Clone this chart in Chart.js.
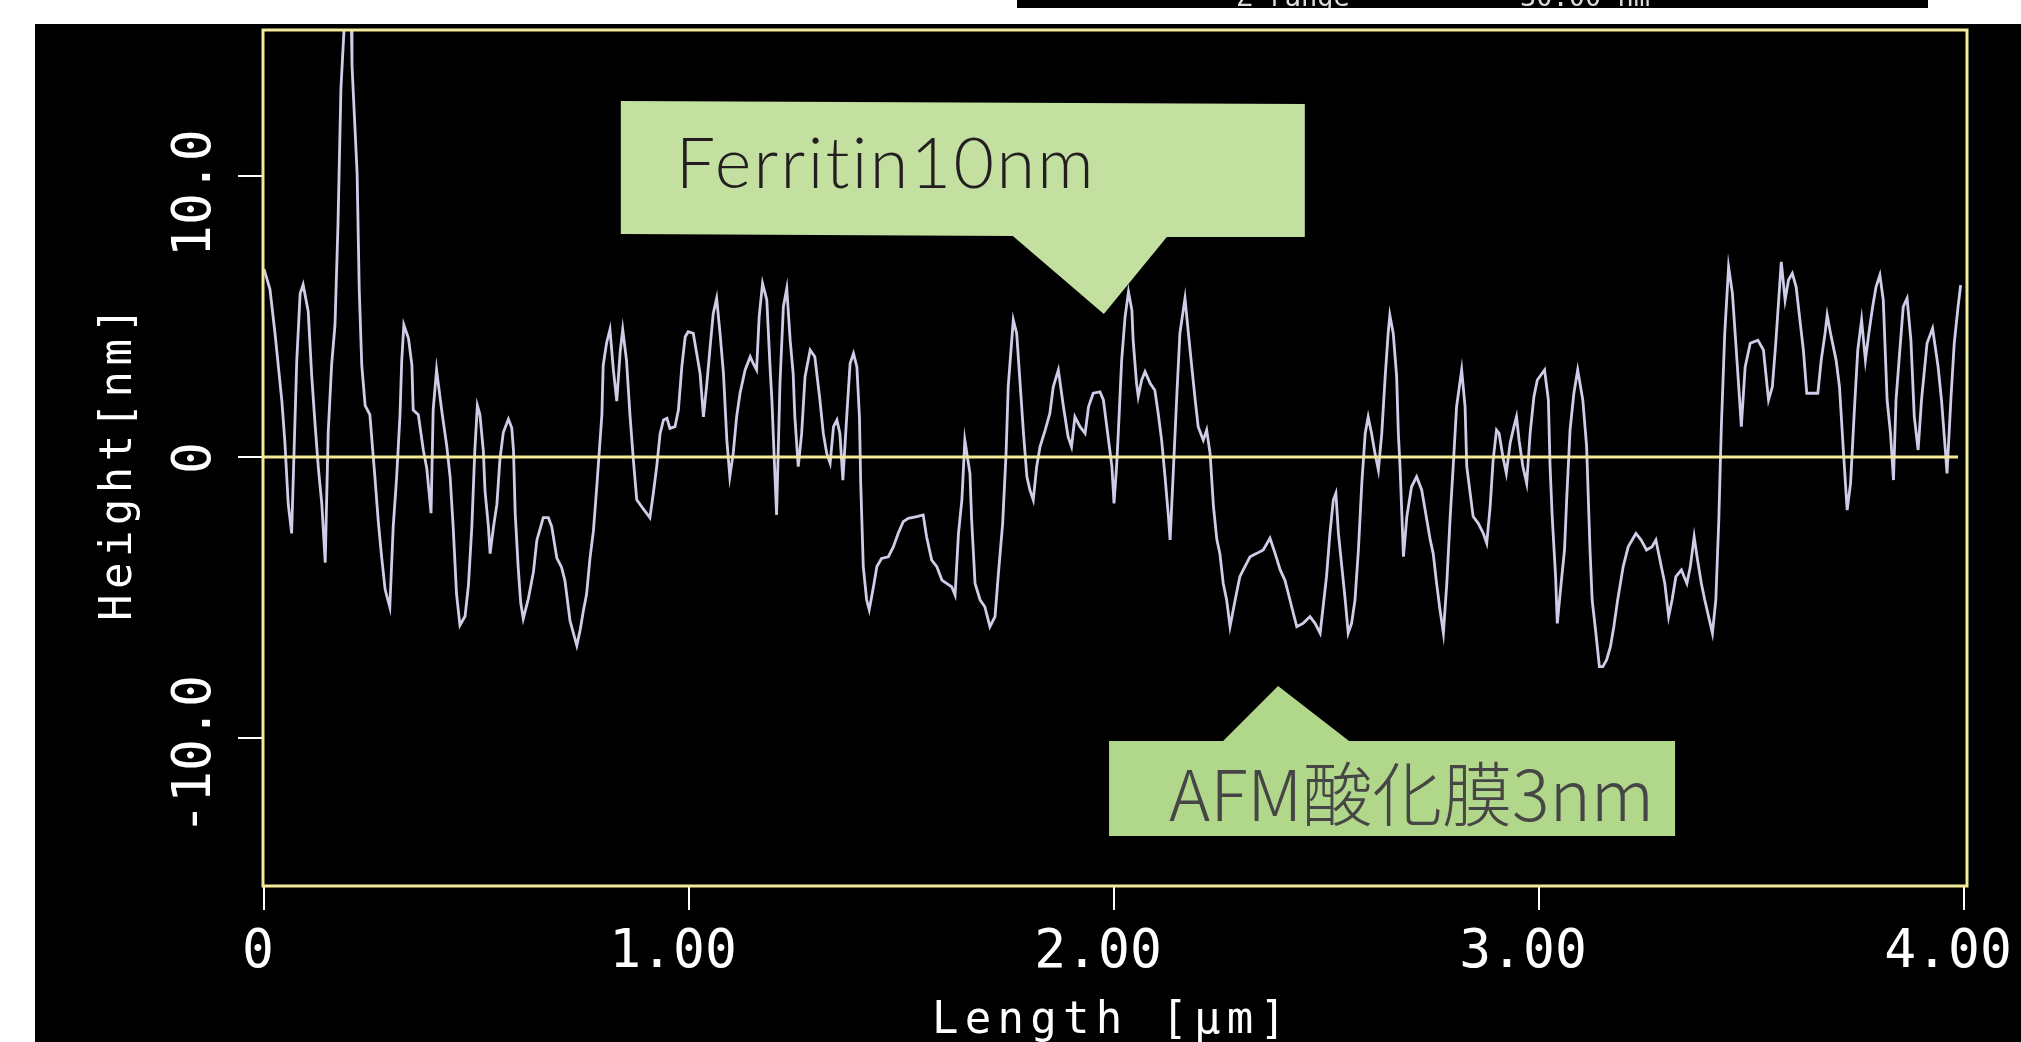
<!DOCTYPE html>
<html>
<head>
<meta charset="utf-8">
<title>Height profile</title>
<script src="https://cdn.jsdelivr.net/npm/chart.js@4.4.1/dist/chart.umd.min.js"></script>
<style>
  html, body { margin: 0; padding: 0; background: #ffffff; overflow: hidden; }
  canvas { display: block; }
</style>
</head>
<body>
<canvas id="profileChart" width="2021" height="1042"></canvas>
<script>
// profile (x in um, height in nm)
const lengthUm = [
  0.000, 0.014, 0.026, 0.042, 0.049, 0.057, 0.065, 0.077, 0.085, 0.092,
  0.104, 0.112, 0.120, 0.128, 0.136, 0.144, 0.151, 0.159, 0.167, 0.174,
  0.181, 0.191, 0.205, 0.207, 0.219, 0.224, 0.230, 0.238, 0.249, 0.261,
  0.269, 0.277, 0.285, 0.296, 0.304, 0.312, 0.320, 0.324, 0.329, 0.340,
  0.348, 0.351, 0.363, 0.375, 0.383, 0.393, 0.398, 0.406, 0.418, 0.430,
  0.438, 0.445, 0.453, 0.461, 0.473, 0.481, 0.489, 0.496, 0.502, 0.508,
  0.516, 0.520, 0.528, 0.532, 0.540, 0.548, 0.555, 0.563, 0.575, 0.583,
  0.587, 0.591, 0.598, 0.604, 0.610, 0.622, 0.634, 0.642, 0.657, 0.669,
  0.677, 0.689, 0.700, 0.708, 0.720, 0.736, 0.744, 0.751, 0.759, 0.767,
  0.775, 0.783, 0.789, 0.795, 0.798, 0.806, 0.814, 0.822, 0.830, 0.838,
  0.844, 0.853, 0.861, 0.869, 0.877, 0.892, 0.908, 0.916, 0.924, 0.932,
  0.940, 0.948, 0.955, 0.967, 0.975, 0.983, 0.991, 0.998, 1.010, 1.018,
  1.026, 1.034, 1.042, 1.049, 1.057, 1.065, 1.073, 1.081, 1.089, 1.096,
  1.104, 1.112, 1.120, 1.132, 1.144, 1.151, 1.159, 1.165, 1.173, 1.183,
  1.191, 1.195, 1.200, 1.206, 1.214, 1.222, 1.230, 1.238, 1.245, 1.249,
  1.257, 1.265, 1.273, 1.285, 1.296, 1.308, 1.316, 1.324, 1.332, 1.340,
  1.348, 1.355, 1.362, 1.371, 1.379, 1.387, 1.395, 1.401, 1.404, 1.410,
  1.418, 1.424, 1.434, 1.442, 1.453, 1.469, 1.481, 1.492, 1.504, 1.516,
  1.536, 1.551, 1.559, 1.571, 1.583, 1.595, 1.606, 1.618, 1.626, 1.634,
  1.642, 1.649, 1.661, 1.665, 1.673, 1.685, 1.696, 1.708, 1.720, 1.728,
  1.738, 1.746, 1.751, 1.763, 1.771, 1.779, 1.787, 1.795, 1.802, 1.810,
  1.818, 1.826, 1.838, 1.849, 1.857, 1.869, 1.881, 1.892, 1.900, 1.908,
  1.920, 1.932, 1.940, 1.951, 1.967, 1.975, 1.983, 1.989, 1.995, 2.000,
  2.006, 2.010, 2.018, 2.026, 2.034, 2.042, 2.045, 2.053, 2.057, 2.065,
  2.073, 2.085, 2.096, 2.104, 2.112, 2.120, 2.128, 2.132, 2.140, 2.148,
  2.155, 2.167, 2.175, 2.183, 2.191, 2.198, 2.210, 2.218, 2.226, 2.234,
  2.242, 2.249, 2.257, 2.265, 2.273, 2.285, 2.296, 2.308, 2.320, 2.336,
  2.351, 2.367, 2.379, 2.391, 2.402, 2.410, 2.418, 2.430, 2.445, 2.461,
  2.473, 2.485, 2.492, 2.500, 2.508, 2.516, 2.522, 2.528, 2.536, 2.544,
  2.551, 2.559, 2.567, 2.575, 2.583, 2.591, 2.598, 2.606, 2.614, 2.622,
  2.630, 2.638, 2.645, 2.649, 2.657, 2.665, 2.669, 2.673, 2.681, 2.689,
  2.700, 2.712, 2.724, 2.736, 2.744, 2.751, 2.759, 2.767, 2.775, 2.783,
  2.791, 2.798, 2.806, 2.818, 2.826, 2.830, 2.838, 2.845, 2.857, 2.869,
  2.877, 2.885, 2.892, 2.900, 2.906, 2.915, 2.923, 2.932, 2.941, 2.947,
  2.953, 2.962, 2.971, 2.979, 2.988, 2.996, 3.013, 3.022, 3.026, 3.031,
  3.039, 3.043, 3.052, 3.060, 3.065, 3.073, 3.082, 3.091, 3.103, 3.112,
  3.120, 3.125, 3.133, 3.142, 3.150, 3.159, 3.168, 3.176, 3.185, 3.198,
  3.210, 3.228, 3.240, 3.253, 3.266, 3.275, 3.283, 3.296, 3.305, 3.313,
  3.322, 3.335, 3.348, 3.356, 3.365, 3.373, 3.382, 3.390, 3.399, 3.408,
  3.416, 3.423, 3.429, 3.437, 3.446, 3.455, 3.463, 3.472, 3.476, 3.485,
  3.497, 3.515, 3.528, 3.540, 3.549, 3.557, 3.566, 3.570, 3.579, 3.587,
  3.596, 3.605, 3.613, 3.622, 3.630, 3.643, 3.656, 3.664, 3.673, 3.678,
  3.686, 3.699, 3.707, 3.716, 3.725, 3.733, 3.742, 3.750, 3.759, 3.768,
  3.776, 3.785, 3.793, 3.802, 3.810, 3.819, 3.827, 3.834, 3.840, 3.849,
  3.857, 3.866, 3.875, 3.883, 3.892, 3.900, 3.913, 3.926, 3.939, 3.947,
  3.956, 3.960, 3.969, 3.977, 3.986, 3.992
];
const heightNm = [
  6.69, 5.97, 4.38, 1.99, 0.55, -1.68, -2.72, 3.42, 5.82, 6.14,
  5.18, 2.94, 1.19, -0.41, -1.68, -3.76, 0.87, 3.26, 4.70, 8.26,
  13.13, 16.0, 16.0, 13.95, 10.11, 5.98, 3.26, 1.83, 1.51, -0.73,
  -2.32, -3.60, -4.72, -5.35, -2.48, -0.73, 1.51, 3.42, 4.70, 4.22,
  3.26, 1.67, 1.51, 0.23, -0.41, -2.00, 1.67, 3.10, 1.67, 0.39,
  -0.73, -2.48, -4.88, -5.99, -5.67, -4.56, -2.48, 0.23, 1.83, 1.51,
  0.23, -1.21, -2.48, -3.44, -2.48, -1.68, -0.09, 0.87, 1.35, 1.03,
  0.23, -2.00, -3.92, -5.19, -5.75, -5.04, -4.08, -2.96, -2.16, -2.16,
  -2.48, -3.60, -3.92, -4.40, -5.83, -6.71, -6.15, -5.51, -4.88, -3.60,
  -2.64, -1.05, 0.23, 1.51, 3.26, 4.06, 4.54, 3.10, 1.99, 3.74,
  4.54, 3.42, 1.51, -0.09, -1.52, -1.84, -2.16, -1.29, -0.34, 0.84,
  1.32, 1.38, 1.02, 1.08, 1.67, 3.21, 4.28, 4.46, 4.40, 3.69,
  2.98, 1.43, 2.62, 3.81, 5.11, 5.65, 4.40, 2.98, 0.60, -0.70,
  0.13, 1.43, 2.27, 3.10, 3.57, 3.33, 3.10, 4.99, 6.18, 5.59,
  3.10, 2.03, 0.13, -2.06, 2.62, 5.35, 6.00, 4.16, 2.98, 1.43,
  -0.34, 0.84, 2.86, 3.81, 3.57, 2.03, 0.84, 0.13, -0.22, 1.08,
  1.32, 0.84, -0.82, 1.43, 3.33, 3.69, 3.21, 1.43, -0.94, -3.90,
  -5.09, -5.44, -4.62, -3.90, -3.61, -3.55, -3.19, -2.72, -2.30, -2.18,
  -2.12, -2.06, -2.84, -3.67, -3.90, -4.38, -4.50, -4.62, -4.91, -2.72,
  -1.53, 0.60, -0.58, -2.24, -4.50, -5.09, -5.33, -6.04, -5.68, -4.14,
  -2.36, 0.13, 2.50, 4.88, 4.40, 2.62, 0.84, -0.70, -1.17, -1.53,
  -0.34, 0.37, 0.96, 1.55, 2.50, 3.10, 1.79, 0.72, 0.37, 1.43,
  1.08, 0.84, 1.79, 2.27, 2.32, 2.03, 1.08, 0.37, -0.34, -1.65,
  -0.34, 0.84, 3.45, 4.99, 5.88, 5.23, 4.16, 2.62, 2.15, 2.74,
  3.04, 2.62, 2.38, 1.55, 0.60, -0.70, -2.12, -2.95, -0.34, 2.27,
  4.40, 5.65, 4.40, 3.21, 2.03, 1.08, 0.60, 0.96, 0.13, -1.77,
  -2.95, -3.43, -4.50, -5.09, -6.04, -5.09, -4.26, -3.90, -3.55, -3.43,
  -3.31, -2.89, -3.43, -4.02, -4.38, -4.85, -5.33, -6.04, -5.92, -5.68,
  -5.92, -6.27, -5.33, -4.26, -2.72, -1.53, -1.29, -2.72, -3.90, -5.09,
  -6.27, -5.92, -5.09, -3.31, -0.94, 0.84, 1.43, 0.84, 0.13, -0.46,
  0.84, 2.86, 4.40, 5.05, 4.40, 2.86, 0.84, -0.34, -3.55, -2.12,
  -1.06, -0.70, -1.17, -2.24, -2.95, -3.43, -4.50, -5.44, -6.27, -4.50,
  -2.12, -0.34, 1.79, 3.10, 1.79, -0.34, -1.29, -2.12, -2.36, -2.72,
  -3.07, -1.77, -0.11, 0.96, 0.84, 0.01, -0.58, 0.49, 1.08, 1.43,
  0.60, -0.34, -0.94, 0.84, 2.15, 2.74, 3.10, 2.03, -0.34, -2.12,
  -4.26, -5.92, -4.50, -3.31, -1.53, 0.96, 2.27, 3.10, 2.03, 0.37,
  -3.31, -5.09, -6.16, -7.46, -7.46, -7.22, -6.75, -6.04, -5.09, -3.90,
  -3.19, -2.72, -2.95, -3.31, -3.19, -2.95, -3.55, -4.50, -5.68, -5.09,
  -4.26, -4.02, -4.50, -3.90, -2.84, -3.67, -4.50, -5.09, -5.68, -6.27,
  -5.09, -2.24, 1.08, 4.40, 6.77, 5.83, 4.05, 2.03, 1.08, 3.21,
  4.05, 4.16, 3.81, 2.03, 2.50, 4.05, 6.06, 6.95, 5.59, 6.30,
  6.54, 6.06, 4.99, 3.81, 2.27, 2.27, 2.27, 3.45, 4.40, 5.05,
  4.40, 3.45, 2.50, 0.25, -1.89, -0.94, 1.67, 3.81, 4.88, 3.45,
  4.40, 5.35, 6.06, 6.48, 5.59, 2.03, 0.84, -0.82, 2.03, 3.81,
  5.35, 5.65, 4.16, 1.43, 0.25, 2.03, 4.05, 4.58, 3.21, 2.03,
  0.25, -0.58, 2.03, 4.05, 5.35, 6.12
];
const zeroLineX = [0, 3.986];
const zeroLineY = [0, 0];
const xTickValues = [0, 1, 2, 3, 4];
const xTickLabels = ['0', '1.00', '2.00', '3.00', '4.00'];
const yTickValues = [-10, 0, 10];
const yTickLabels = ['-10.0', '0', '10.0'];
const calloutTexts = ['Ferritin10nm', 'AFM酸化膜3nm'];
const calloutTipX = [1.976, 2.386];
const calloutTipY = [5.09, -8.15];

const frameYellow = '#f3ea98';
const monoFont = '"DejaVu Sans Mono", monospace';

// draw text stretched to a given width with letter spacing
function spacedText(ctx, text, x, y, width, centered) {
  ctx.letterSpacing = '0px';
  ctx.textAlign = 'left';
  const natural = ctx.measureText(text).width;
  const n = Array.from(text).length;
  const ls = n > 1 ? (width - natural) / (n - 1) : 0;
  ctx.letterSpacing = ls + 'px';
  ctx.fillText(text, centered ? x - width / 2 : x, y);
  ctx.letterSpacing = '0px';
}

function polygon(ctx, ox, oy, pts, color) {
  ctx.fillStyle = color;
  ctx.beginPath();
  pts.forEach(function (p, i) {
    if (i === 0) ctx.moveTo(ox + p[0], oy + p[1]);
    else ctx.lineTo(ox + p[0], oy + p[1]);
  });
  ctx.closePath();
  ctx.fill();
}

const profilePlugin = {
  id: 'profilePlugin',
  beforeDraw(chart) {
    const ctx = chart.ctx;
    ctx.save();
    ctx.fillStyle = '#ffffff';
    ctx.fillRect(0, 0, chart.width, chart.height);
    ctx.fillStyle = '#000000';
    ctx.fillRect(35, 24, chart.width - 35, chart.height - 24);
    ctx.fillRect(1017, 0, 911, 8);
    // header strip, only the lower part of its text is on the page
    ctx.beginPath();
    ctx.rect(1017, 0, 911, 8);
    ctx.clip();
    ctx.fillStyle = '#dcdcdc';
    ctx.font = '27px ' + monoFont;
    ctx.textBaseline = 'alphabetic';
    ctx.fillText('Z range', 1236, 6);
    ctx.fillText('30.00 nm', 1520, 6);
    ctx.restore();
  },
  afterDatasetsDraw(chart) {
    const ctx = chart.ctx;
    const a = chart.chartArea;
    ctx.save();
    ctx.strokeStyle = frameYellow;
    ctx.lineWidth = 3;
    ctx.strokeRect(a.left, a.top, a.right - a.left, a.bottom - a.top);
    ctx.restore();
  },
  afterDraw(chart) {
    const ctx = chart.ctx;
    const xs = chart.scales.x;
    const ys = chart.scales.y;
    const a = chart.chartArea;
    ctx.save();
    ctx.fillStyle = '#ffffff';
    ctx.textBaseline = 'alphabetic';

    // tick labels
    ctx.font = '53px ' + monoFont;
    ctx.textAlign = 'center';
    xTickValues.forEach(function (v, i) {
      const t = xTickLabels[i];
      const px = xs.getPixelForValue(v) + (t.length > 1 ? -16 : -6);
      ctx.fillText(t, px, 967);
    });
    yTickValues.forEach(function (v, i) {
      const t = yTickLabels[i];
      const py = ys.getPixelForValue(v) + (t.length > 1 ? 17 : 1);
      ctx.save();
      ctx.translate(210, py);
      ctx.rotate(-Math.PI / 2);
      ctx.textAlign = 'center';
      ctx.fillText(t, 0, 0);
      ctx.restore();
    });

    // axis titles
    ctx.font = '44px ' + monoFont;
    spacedText(ctx, 'Length [μm]', (a.left + a.right) / 2 - 6, 1033, 354, true);
    ctx.save();
    ctx.translate(131, (a.top + a.bottom) / 2 + 6);
    ctx.rotate(-Math.PI / 2);
    spacedText(ctx, 'Height[nm]', 0, 0, 314, true);
    ctx.restore();

    // callouts
    let tx = xs.getPixelForValue(calloutTipX[0]);
    let ty = ys.getPixelForValue(calloutTipY[0]);
    polygon(ctx, tx, ty, [[-483, -213], [201, -210], [201, -77], [63, -77], [0, 0], [-91, -78], [-483, -80]], '#c4e0a1');
    ctx.fillStyle = '#231f20';
    ctx.font = '300 70px Lato, "Noto Sans", sans-serif';
    spacedText(ctx, calloutTexts[0], tx - 428, ty - 126, 419, false);

    tx = xs.getPixelForValue(calloutTipX[1]);
    ty = ys.getPixelForValue(calloutTipY[1]);
    polygon(ctx, tx, ty, [[-169, 55], [-55, 55], [0, 0], [71, 55], [397, 55], [397, 150], [-169, 150]], '#b1d78a');
    ctx.fillStyle = '#464646';
    ctx.font = '300 70px "Noto Sans CJK JP", sans-serif';
    spacedText(ctx, calloutTexts[1], tx - 109, ty + 135, 485, false);

    ctx.restore();
  }
};

document.addEventListener("DOMContentLoaded", function () {
  const canvas = document.getElementById('profileChart');

  const profilePoints = lengthUm.map(function (x, i) { return { x: x, y: heightNm[i] }; });
  const zeroPoints = zeroLineX.map(function (x, i) { return { x: x, y: zeroLineY[i] }; });

  const data = {
    datasets: [{
      label: 'Height',
      data: profilePoints,
      borderColor: '#cdcde8',
      borderWidth: 2.8,
      pointRadius: 0,
      tension: 0,
      order: 1
    }, {
      label: 'zero',
      data: zeroPoints,
      borderColor: frameYellow,
      borderWidth: 3,
      pointRadius: 0,
      order: 0
    }]
  };

  const config = {
    type: 'line',
    data: data,
    options: {
      responsive: false,
      animation: false,
      devicePixelRatio: 1,
      layout: { padding: { top: 30, right: 54, left: 0, bottom: 0 } },
      plugins: {
        legend: { display: false },
        tooltip: { enabled: false }
      },
      scales: {
        x: {
          type: 'linear',
          min: -0.0024,
          max: 4.007,
          afterBuildTicks: function (scale) {
            scale.ticks = xTickValues.map(function (v) { return { value: v }; });
          },
          afterFit: function (scale) { scale.height = 156; },
          grid: { drawOnChartArea: false, color: '#ffffff', lineWidth: 2, tickLength: 24 },
          border: { display: false },
          ticks: { display: false }
        },
        y: {
          type: 'linear',
          min: -15.27,
          max: 15.2,
          afterBuildTicks: function (scale) {
            scale.ticks = yTickValues.map(function (v) { return { value: v }; });
          },
          afterFit: function (scale) { scale.width = 263; },
          grid: { drawOnChartArea: false, color: '#ffffff', lineWidth: 2, tickLength: 25 },
          border: { display: false },
          ticks: { display: false }
        }
      }
    },
    plugins: [profilePlugin]
  };

  new Chart(canvas, config);
});
</script>
</body>
</html>
